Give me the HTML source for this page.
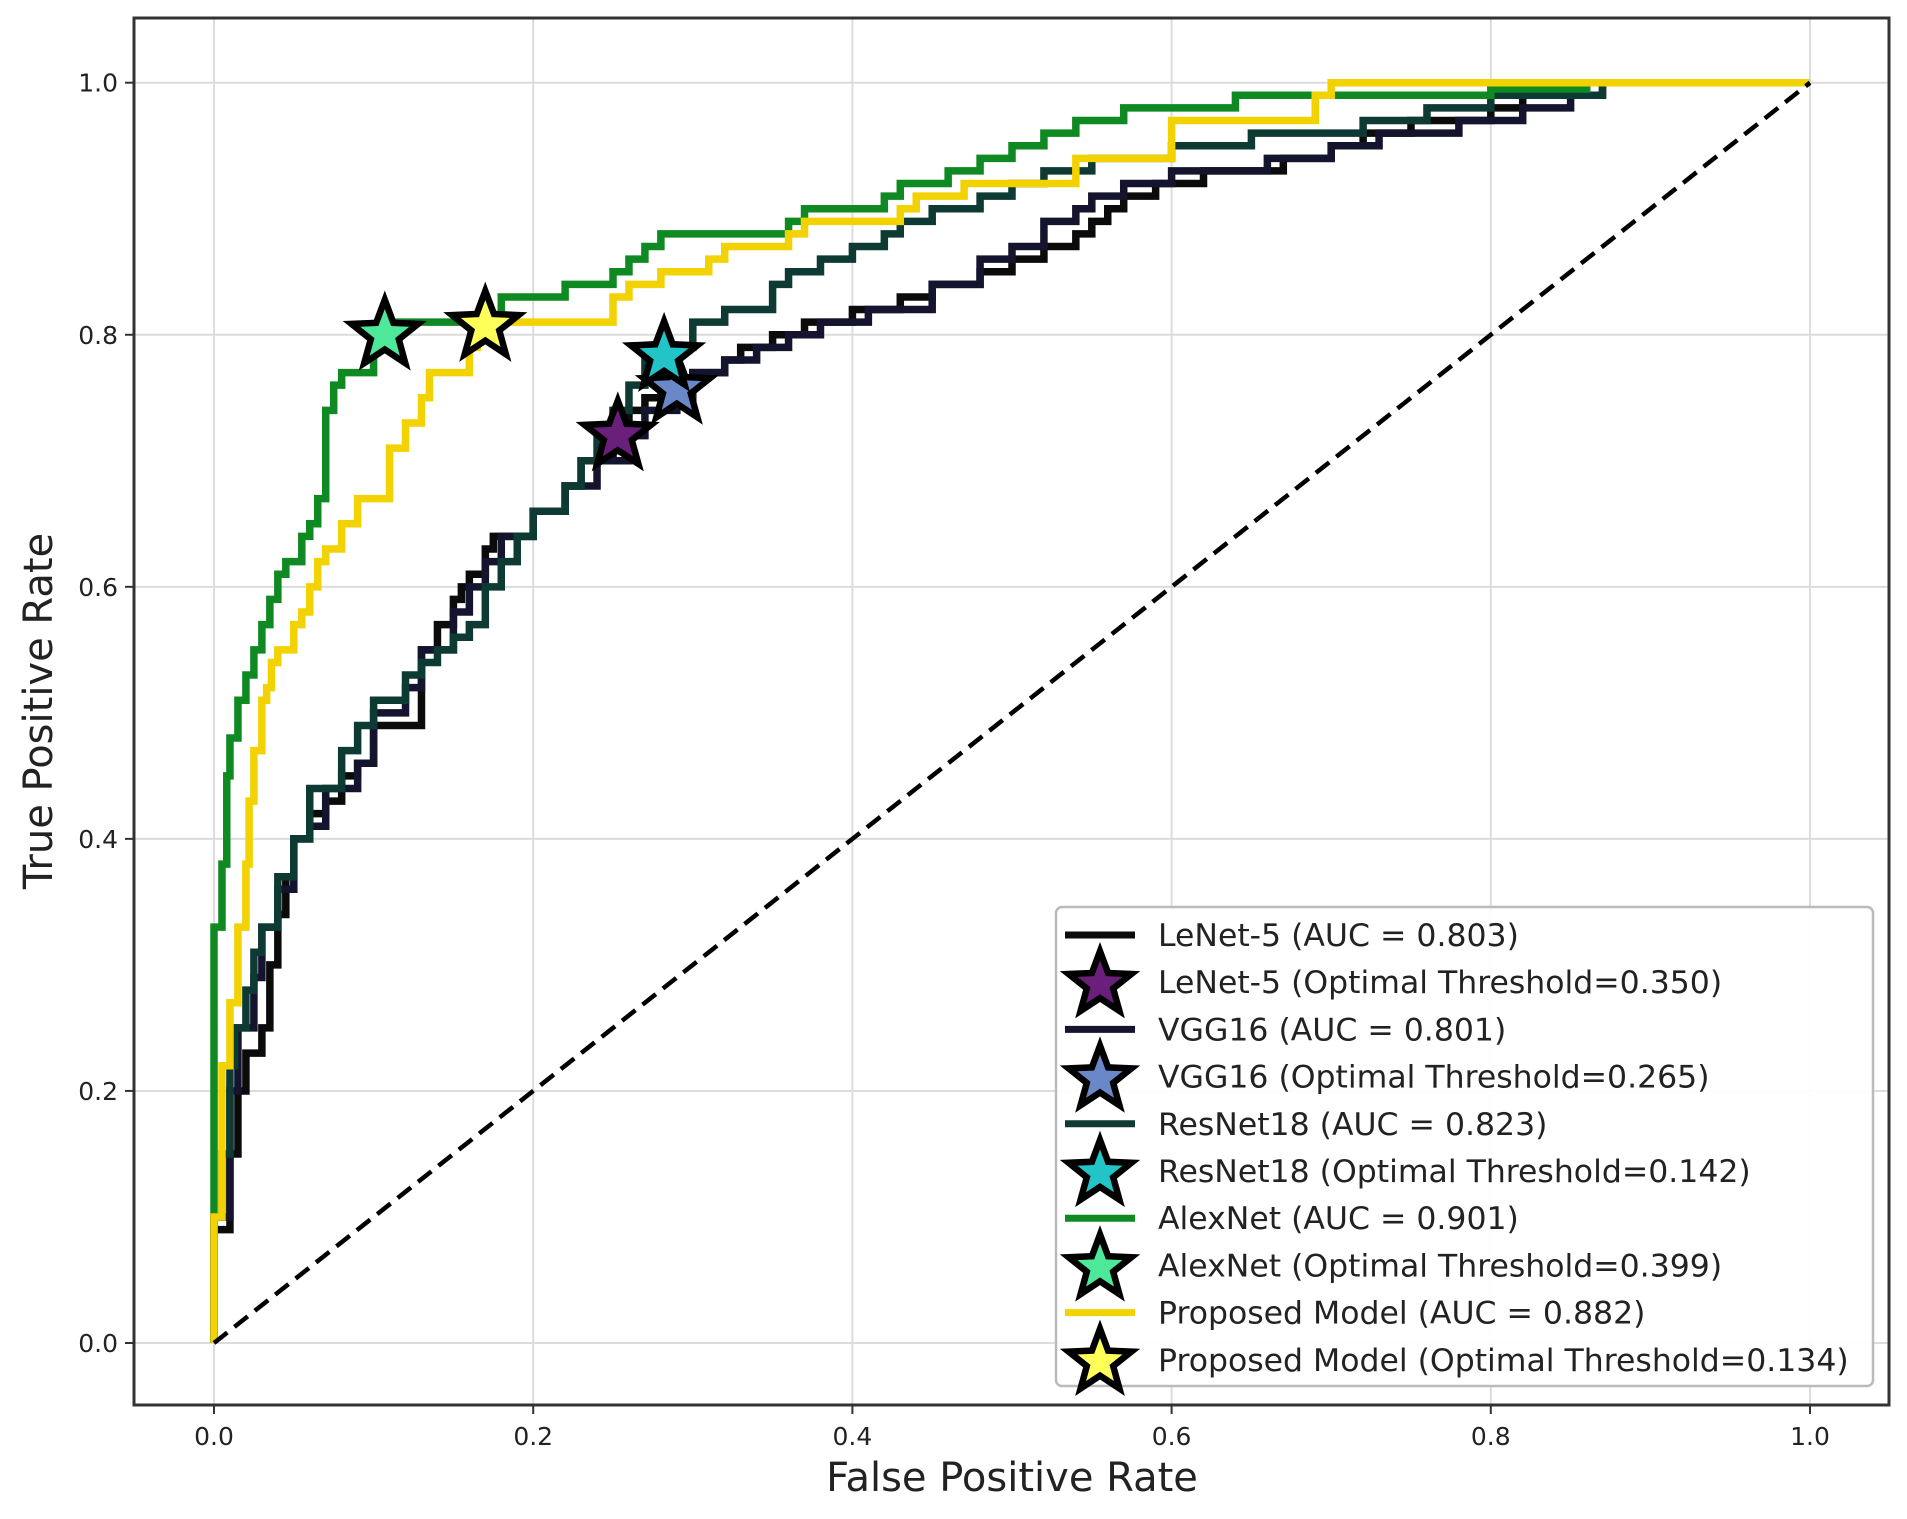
<!DOCTYPE html>
<html><head><meta charset="utf-8"><style>
html,body{margin:0;padding:0;background:#fff;}
svg{display:block;font-family:"DejaVu Sans","Liberation Sans",sans-serif;}
</style></head><body>
<svg id="chart" width="1907" height="1519" viewBox="0 0 1907 1519" xmlns="http://www.w3.org/2000/svg">
<rect x="0" y="0" width="1907" height="1519" fill="#fff"/>
<g id="grid"></g>
<g id="series"></g>
<g id="axes"></g>
<text x="1012" y="1491" font-size="40" text-anchor="middle" fill="#222">False Positive Rate</text>
<text x="0" y="0" font-size="40" text-anchor="middle" fill="#222" transform="translate(52,711) rotate(-90)">True Positive Rate</text>
<g id="legend"></g>
</svg>
<script>
const xTicks=[0,0.2,0.4,0.6,0.8,1.0];
const yTicks=[0,0.2,0.4,0.6,0.8,1.0];
const seriesNames=["LeNet-5","VGG16","ResNet18","AlexNet","Proposed Model"];
const aucValues=["0.803","0.801","0.823","0.901","0.882"];
const thresholdValues=["0.350","0.265","0.142","0.399","0.134"];
const lenetFpr=[0,0.01,0.015,0.02,0.03,0.035,0.04,0.045,0.05,0.06,0.07,0.08,0.09,0.1,0.11,0.13,0.13,0.14,0.15,0.155,0.16,0.17,0.175,0.2,0.22,0.23,0.25,0.26,0.27,0.28,0.3,0.32,0.33,0.35,0.37,0.4,0.43,0.45,0.48,0.5,0.52,0.54,0.55,0.56,0.57,0.59,0.62,0.67,0.7,0.72,0.75,0.8,0.82,0.86,1];
const lenetTpr=[0,0.09,0.15,0.2,0.23,0.25,0.3,0.34,0.37,0.4,0.42,0.43,0.45,0.46,0.49,0.49,0.52,0.55,0.57,0.59,0.6,0.61,0.63,0.64,0.66,0.68,0.7,0.72,0.74,0.75,0.76,0.77,0.78,0.79,0.8,0.81,0.82,0.83,0.84,0.85,0.86,0.87,0.88,0.89,0.9,0.91,0.92,0.93,0.94,0.95,0.96,0.97,0.98,0.99,1];
const vggFpr=[0,0.01,0.015,0.025,0.03,0.04,0.05,0.06,0.07,0.09,0.1,0.12,0.13,0.15,0.16,0.17,0.18,0.2,0.22,0.24,0.26,0.27,0.29,0.3,0.32,0.34,0.36,0.38,0.41,0.45,0.48,0.5,0.52,0.54,0.55,0.57,0.6,0.66,0.7,0.73,0.78,0.82,0.85,0.87,1];
const vggTpr=[0,0.1,0.2,0.25,0.29,0.33,0.36,0.4,0.41,0.44,0.46,0.5,0.52,0.55,0.58,0.6,0.62,0.64,0.66,0.68,0.7,0.72,0.74,0.75,0.77,0.78,0.79,0.8,0.81,0.82,0.84,0.86,0.87,0.89,0.9,0.91,0.92,0.93,0.94,0.95,0.96,0.97,0.98,0.99,1];
const resnetFpr=[0,0.005,0.01,0.013,0.02,0.025,0.03,0.04,0.05,0.06,0.06,0.08,0.08,0.09,0.1,0.12,0.13,0.14,0.15,0.16,0.17,0.18,0.19,0.2,0.22,0.23,0.24,0.25,0.26,0.27,0.28,0.3,0.32,0.35,0.36,0.38,0.4,0.42,0.43,0.45,0.48,0.5,0.52,0.55,0.6,0.65,0.72,0.76,0.8,0.83,0.87,1];
const resnetTpr=[0,0.1,0.15,0.22,0.25,0.28,0.31,0.33,0.37,0.4,0.43,0.44,0.46,0.47,0.49,0.51,0.53,0.54,0.55,0.56,0.57,0.6,0.62,0.64,0.66,0.68,0.7,0.72,0.74,0.76,0.78,0.79,0.81,0.82,0.84,0.85,0.86,0.87,0.88,0.89,0.9,0.91,0.92,0.93,0.94,0.95,0.96,0.97,0.98,0.99,0.99,1];
const alexFpr=[0,0,0.005,0.008,0.01,0.015,0.02,0.025,0.03,0.035,0.04,0.045,0.05,0.055,0.06,0.065,0.07,0.07,0.075,0.08,0.085,0.1,0.1,0.11,0.11,0.18,0.18,0.22,0.22,0.25,0.26,0.27,0.28,0.29,0.36,0.37,0.42,0.43,0.46,0.48,0.5,0.52,0.54,0.57,0.64,0.8,0.83,0.86,1];
const alexTpr=[0,0.25,0.33,0.38,0.45,0.48,0.51,0.53,0.55,0.57,0.59,0.61,0.62,0.62,0.64,0.65,0.67,0.73,0.74,0.76,0.77,0.77,0.78,0.8,0.81,0.81,0.83,0.83,0.84,0.84,0.85,0.86,0.87,0.88,0.88,0.89,0.9,0.91,0.92,0.93,0.94,0.95,0.96,0.97,0.98,0.99,0.995,0.995,1];
const propFpr=[0,0,0.005,0.01,0.015,0.02,0.022,0.025,0.03,0.033,0.036,0.04,0.05,0.055,0.06,0.065,0.07,0.08,0.09,0.1,0.11,0.11,0.12,0.13,0.135,0.14,0.16,0.165,0.17,0.18,0.25,0.26,0.28,0.28,0.31,0.32,0.36,0.37,0.43,0.44,0.47,0.54,0.55,0.6,0.6,0.64,0.69,0.7,0.7,1];
const propTpr=[0,0.09,0.1,0.22,0.27,0.33,0.38,0.43,0.47,0.51,0.52,0.54,0.55,0.57,0.58,0.6,0.62,0.63,0.65,0.67,0.67,0.7,0.71,0.73,0.75,0.77,0.77,0.79,0.8,0.81,0.81,0.83,0.84,0.85,0.85,0.86,0.87,0.88,0.89,0.9,0.91,0.92,0.94,0.94,0.96,0.97,0.97,0.99,1,1];
const starFpr=[0.253,0.29,0.282,0.107,0.17];
const starTpr=[0.72,0.757,0.783,0.8,0.807];

const NS="http://www.w3.org/2000/svg";
const X0=214,X1=1810,Y0=1343,Y1=82.7;
const sx=v=>X0+(X1-X0)*v, sy=v=>Y0-(Y0-Y1)*v;
const lineColors=["#0b0b0b","#14142e","#0d3b33","#0f8a22","#f2d200"];
const starColors=["#6a1f7a","#6a88c8","#22c4c8","#4ee89a","#ffff5a"];
const fprs=[lenetFpr,vggFpr,resnetFpr,alexFpr,propFpr];
const tprs=[lenetTpr,vggTpr,resnetTpr,alexTpr,propTpr];
function mk(tag,attrs,parent){const e=document.createElementNS(NS,tag);for(const k in attrs)e.setAttribute(k,attrs[k]);parent.appendChild(e);return e;}
const grid=document.getElementById('grid'),axes=document.getElementById('axes'),series=document.getElementById('series'),legend=document.getElementById('legend');
xTicks.forEach(t=>{
 const g=mk('line',{x1:sx(t),x2:sx(t),y1:18,y2:1405,stroke:'#dcdcdc','stroke-width':2},grid);
 
 
 const tk=mk('line',{x1:sx(t),x2:sx(t),y1:1405,y2:1414,stroke:'#333','stroke-width':2},axes);
 
 
 const tx=mk('text',{x:sx(t),y:1445,'font-size':25,'text-anchor':'middle',fill:'#222'},axes);
 tx.textContent=t.toFixed(1);
 
 
});
yTicks.forEach(t=>{
 const g=mk('line',{x1:134,x2:1889,y1:sy(t),y2:sy(t),stroke:'#dcdcdc','stroke-width':2},grid);
 
 
 const tk=mk('line',{x1:125,x2:134,y1:sy(t),y2:sy(t),stroke:'#333','stroke-width':2},axes);
 
 
 const tx=mk('text',{x:118,y:sy(t)+9,'font-size':25,'text-anchor':'end',fill:'#222'},axes);
 tx.textContent=t.toFixed(1);
 
 
});
const frame=mk('rect',{x:134,y:18,width:1755,height:1387,fill:'none',stroke:'#333','stroke-width':3},axes);


function starPath(cx,cy,R){const r=R*0.42;let d='';for(let i=0;i<10;i++){const a=-Math.PI/2+i*Math.PI/5;const rr=i%2?r:R;d+=(i?'L':'M')+(cx+rr*Math.cos(a)).toFixed(1)+','+(cy+rr*Math.sin(a)).toFixed(1);}return d+'Z';}
fprs.forEach((f,i)=>{
 let pts=[];for(let k=0;k<f.length;k++){if(k>0)pts.push(sx(f[k-1])+','+sy(tprs[i][k]));pts.push(sx(f[k])+','+sy(tprs[i][k]));}
 const p=mk('polyline',{points:pts.join(' '),fill:'none',stroke:lineColors[i],'stroke-width':7.5,'stroke-linejoin':'miter'},series);
 
 
});
const diag=mk('line',{x1:sx(0),y1:sy(0),x2:sx(1),y2:sy(1),stroke:'#000','stroke-width':4.5,'stroke-dasharray':'17,9'},series);


starFpr.forEach((v,i)=>{
 const s=mk('path',{d:starPath(sx(v),sy(starTpr[i]),35),fill:starColors[i],stroke:'#000','stroke-width':6.5,'stroke-linejoin':'miter'},series);
 
 
});
const lb=mk('rect',{x:1056,y:907,width:817,height:479,rx:6,fill:'#fff','fill-opacity':0.92,stroke:'#bbb','stroke-width':2.5},legend);


seriesNames.forEach((n,i)=>{
 const y1=935+i*2*47.2, y2=y1+47.2;
 const l=mk('line',{x1:1065,x2:1135,y1:y1,y2:y1,stroke:lineColors[i],'stroke-width':7},legend);
 
 
 const t1=mk('text',{x:1158,y:y1+11,'font-size':31.5,fill:'#222'},legend);
 t1.textContent=n+' (AUC = '+aucValues[i]+')';
 
 
 const s=mk('path',{d:starPath(1100,y2+2,33),fill:starColors[i],stroke:'#000','stroke-width':6.5},legend);
 
 
 const t2=mk('text',{x:1158,y:y2+11,'font-size':31.5,fill:'#222'},legend);
 t2.textContent=n+' (Optimal Threshold='+thresholdValues[i]+')';
 
 
});
</script>
</body></html>
